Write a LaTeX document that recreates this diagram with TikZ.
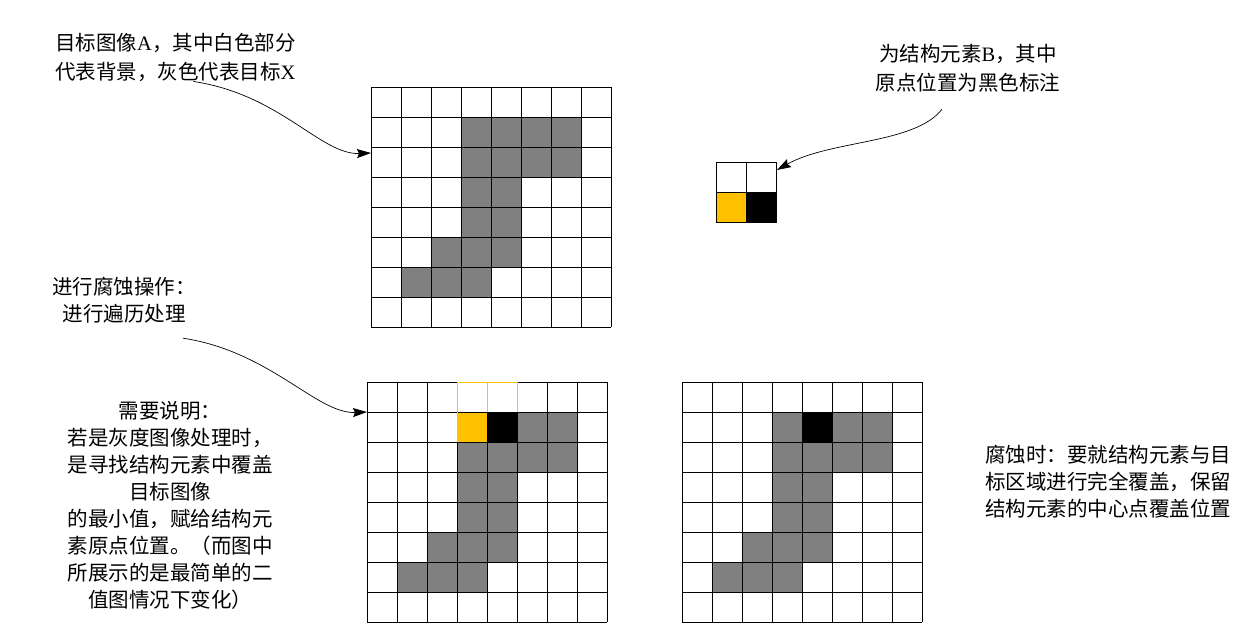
\documentclass[tikz,border=0pt]{standalone}
\usepackage{fontspec}
\setmainfont{Liberation Serif}
\newfontfamily\cjk{Noto Sans CJK SC}
\usetikzlibrary{arrows.meta}

\definecolor{cellgray}{HTML}{808080}
\definecolor{markyellow}{HTML}{FFC000}

\newcommand\lat[1]{{\rmfamily #1}}
% 8x8 raster, 30 units per cell
\newcommand\pixgrid{\foreach \i in {0,...,8} {\draw[line width=1pt] (30*\i,0) -- (30*\i,240) (0,30*\i) -- (240,30*\i);}}
\newcommand\targetX{\foreach \c/\r in {3/1,4/1,5/1,6/1,3/2,4/2,5/2,6/2,3/3,4/3,3/4,4/4,2/5,3/5,4/5,1/6,2/6,3/6}
  \fill[cellgray] (30*\c,30*\r) rectangle +(30,30);}

\tikzset{
  every node/.style={inner sep=0pt},
  txt/.style={font=\cjk\fontsize{20.5}{27}\selectfont},
  callout/.style={-{Stealth[length=14pt,width=9pt,inset=2pt]}, line width=0.7pt},
}

\begin{document}
\begin{tikzpicture}[x=1pt,y=-1pt]
\useasboundingbox (0,0) rectangle (1256,643);

  \coordinate (A) at (371,87);
  \coordinate (E) at (367,382);
  \coordinate (R) at (682,382);
  \coordinate (B) at (716,162);

  \coordinate (inA) at (371,153);
  \coordinate (inE) at (367,412);
  \coordinate (inB) at (777,170);

% target image A
\begin{scope}[shift={(A)}]
  \targetX
  \pixgrid
\end{scope}

% structure element B
\begin{scope}[shift={(B)}]
  \fill[markyellow] (0,30) rectangle (30,60);
  \fill[black] (30,30) rectangle (60,60);
  \draw[line width=1pt] (0,0) rectangle (60,60) (30,0) -- (30,60) (0,30) -- (60,30);
\end{scope}

% traversal
\begin{scope}[shift={(E)}]
  \targetX
  \fill[markyellow] (90,30) rectangle (120,60);
  \fill[black] (120,30) rectangle (150,60);
  \pixgrid
  \draw[markyellow,line width=1pt] (90,60) -- (90,0) -- (150,0) -- (150,30) (120,0) -- (120,30);
\end{scope}

% result
\begin{scope}[shift={(R)}]
  \targetX
  \fill[black] (120,30) rectangle (150,60);
  \pixgrid
\end{scope}

  \node[txt,align=left,anchor=west] (descA) at (55,57) {目标图像\lat{A}，其中白色部分\\[2pt]代表背景，灰色代表目标\lat{X}};
  \node[txt,align=center] (descB) at (968,68) {为结构元素\lat{B}，其中\\[2pt]原点位置为黑色标注};
  \node[txt,align=center] (erode) at (124,300) {进行腐蚀操作：\\进行遍历处理};
  \node[txt,align=center] (remark) at (170,505) {需要说明：\\若是灰度图像处理时，\\是寻找结构元素中覆盖\\目标图像\\的最小值，赋给结构元\\素原点位置。（而图中\\所展示的是最简单的二\\值图情况下变化）};
  \node[txt,align=left,anchor=west] (result) at (985,482) {腐蚀时：要就结构元素与目\\标区域进行完全覆盖，保留\\结构元素的中心点覆盖位置};

\draw[callout] ([xshift=18pt]descA.south) .. controls +(87,13) and +(-50,2) .. (inA);
\draw[callout] ([xshift=59pt,yshift=-15pt]erode.south) .. controls +(87,13) and +(-50,2) .. (inE);
\draw[callout] ([xshift=-26pt,yshift=-17pt]descB.south) .. controls +(-27,35) and +(53,-30) .. (inB);

\end{tikzpicture}
\end{document}
